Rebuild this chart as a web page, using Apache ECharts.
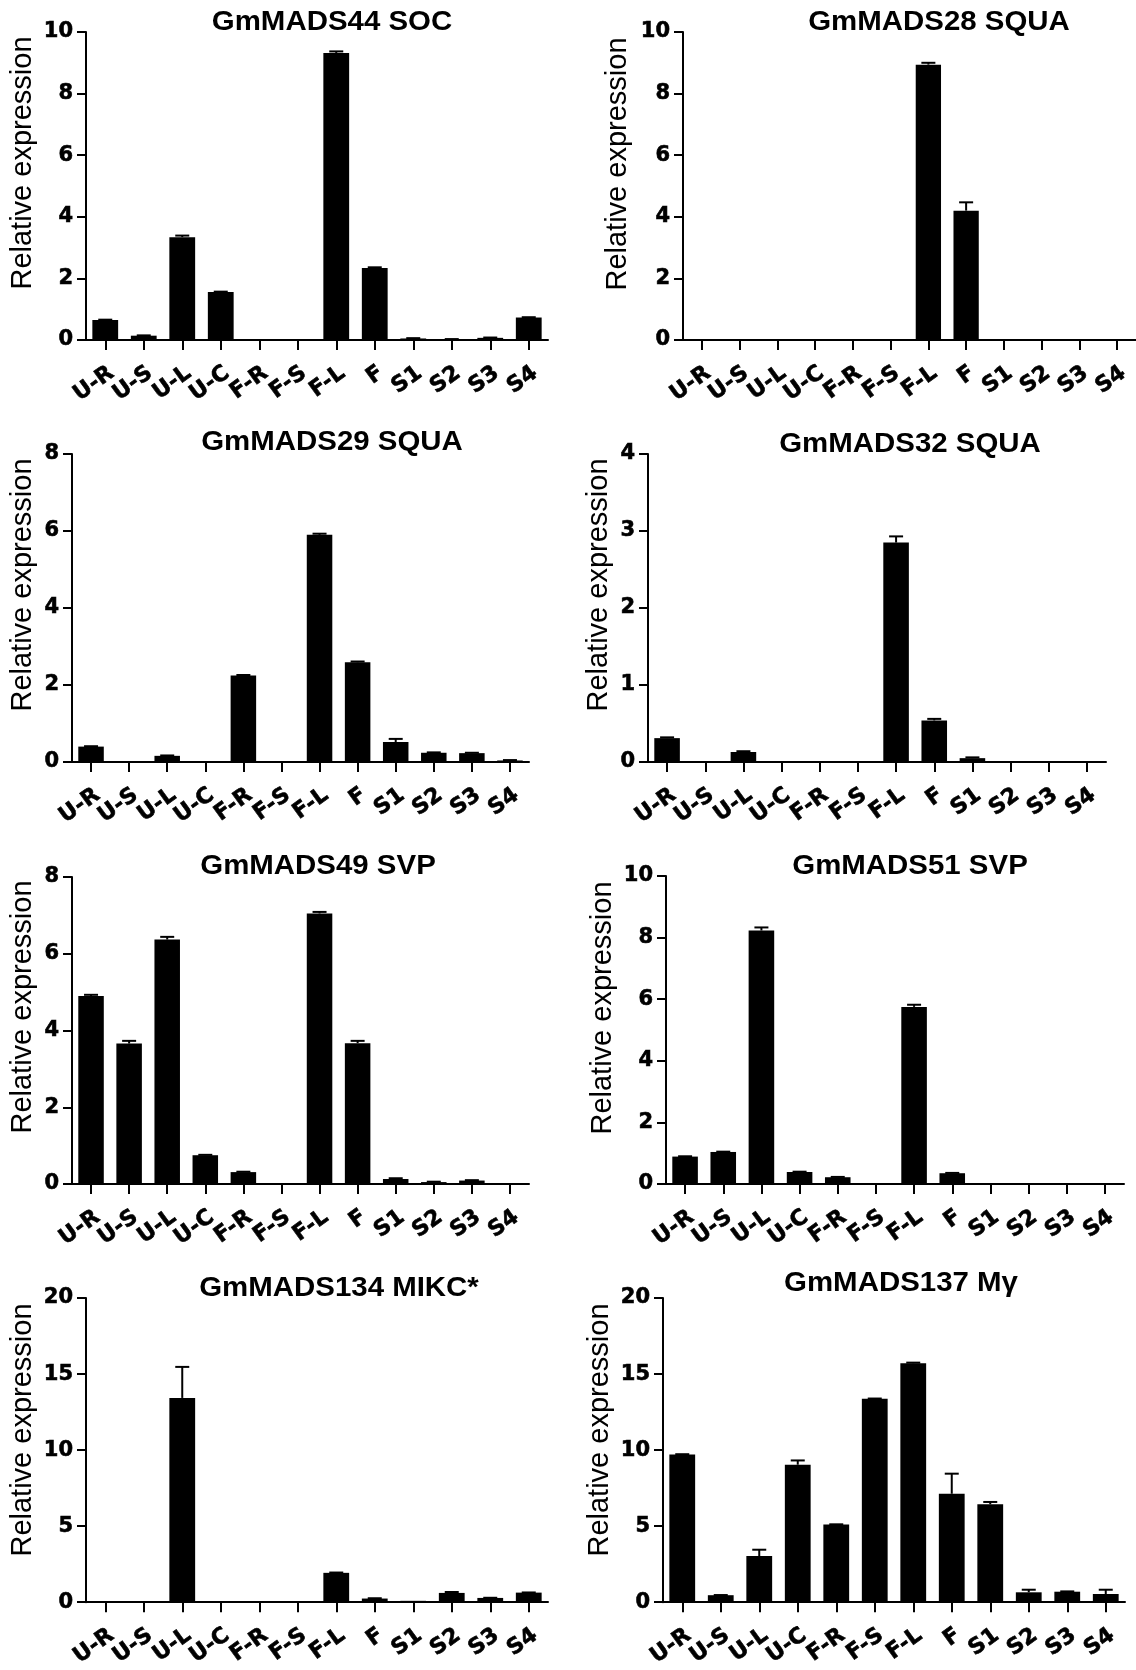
<!DOCTYPE html>
<html>
<head>
<meta charset="utf-8">
<title>GmMADS relative expression</title>
<script src="https://cdn.jsdelivr.net/npm/echarts@6/dist/echarts.min.js"></script>
<style>
	html, body { margin: 0; padding: 0; background: #fff; }
	#chart { width: 1136px; height: 1670px; }
</style>
</head>
<body>
<div id="chart"></div>
<script>
// tissues / stages on every x axis
var categories = ["U-R", "U-S", "U-L", "U-C", "F-R", "F-S", "F-L", "F", "S1", "S2", "S3", "S4"];

// mean relative expression and upper error (SD) for each gene
var gm44 = [0.65, 0.14, 3.34, 1.56, 0, 0, 9.32, 2.34, 0.05, 0.02, 0.07, 0.73];
var gm44Err = [0.01, 0.01, 0.05, 0.01, 0, 0, 0.05, 0.02, 0.01, 0.01, 0.01, 0.01];

var gm28 = [0, 0, 0, 0, 0, 0, 8.94, 4.2, 0, 0, 0, 0];
var gm28Err = [0, 0, 0, 0, 0, 0, 0.06, 0.27, 0, 0, 0, 0];

var gm29 = [0.4, 0.02, 0.16, 0, 2.25, 0, 5.9, 2.59, 0.52, 0.24, 0.23, 0.04];
var gm29Err = [0.01, 0, 0.01, 0, 0.01, 0, 0.03, 0.02, 0.08, 0.01, 0.01, 0.01];

var gm32 = [0.31, 0, 0.13, 0, 0, 0, 2.85, 0.54, 0.05, 0, 0, 0];
var gm32Err = [0.01, 0, 0.01, 0, 0, 0, 0.08, 0.02, 0.01, 0, 0, 0];

var gm49 = [4.9, 3.66, 6.37, 0.75, 0.31, 0, 7.05, 3.67, 0.13, 0.05, 0.09, 0];
var gm49Err = [0.03, 0.07, 0.07, 0.01, 0.01, 0, 0.04, 0.06, 0.02, 0.01, 0.01, 0];

var gm51 = [0.89, 1.04, 8.23, 0.39, 0.22, 0, 5.75, 0.35, 0, 0, 0, 0];
var gm51Err = [0.01, 0.01, 0.1, 0.01, 0.01, 0, 0.07, 0.01, 0, 0, 0, 0];

var gm134 = [0, 0.02, 13.43, 0, 0.06, 0.06, 1.93, 0.24, 0.09, 0.61, 0.28, 0.63];
var gm134Err = [0, 0, 2.04, 0, 0, 0, 0.02, 0.02, 0, 0.06, 0.01, 0.01];

var gm137 = [9.71, 0.46, 3.03, 9.04, 5.11, 13.37, 15.71, 7.13, 6.44, 0.65, 0.69, 0.54];
var gm137Err = [0.02, 0.01, 0.42, 0.28, 0.01, 0.02, 0.04, 1.32, 0.15, 0.17, 0.02, 0.28];

// y axis ranges
var yMax = [10, 10, 8, 4, 8, 10, 20, 20];
var yStep = [2, 2, 2, 1, 2, 2, 5, 5];

var titles = ["GmMADS44 SOC", "GmMADS28 SQUA", "GmMADS29 SQUA", "GmMADS32 SQUA",
	"GmMADS49 SVP", "GmMADS51 SVP", "GmMADS134 MIKC*", "GmMADS137 Mγ"];

var panels = [
	{ values: gm44, errors: gm44Err },
	{ values: gm28, errors: gm28Err },
	{ values: gm29, errors: gm29Err },
	{ values: gm32, errors: gm32Err },
	{ values: gm49, errors: gm49Err },
	{ values: gm51, errors: gm51Err },
	{ values: gm134, errors: gm134Err },
	{ values: gm137, errors: gm137Err }
];

// plot boxes in pixels, plus where the title and y name sit
var layout = [
	{ left: 86, top: 32, width: 462, height: 308, titleX: 332, titleY: 23, nameX: 23, nameY: 163 },
	{ left: 683, top: 32, width: 462, height: 308, titleX: 939, titleY: 23, nameX: 618, nameY: 164 },
	{ left: 72, top: 454, width: 457, height: 308, titleX: 332, titleY: 443, nameX: 23, nameY: 585 },
	{ left: 648, top: 454, width: 458, height: 308, titleX: 910, titleY: 445, nameX: 599, nameY: 585 },
	{ left: 72, top: 877, width: 457, height: 307, titleX: 318, titleY: 867, nameX: 23, nameY: 1007 },
	{ left: 666, top: 876, width: 458, height: 308, titleX: 910, titleY: 867, nameX: 603, nameY: 1008 },
	{ left: 86, top: 1298, width: 462, height: 308, titleX: 339, titleY: 1289, nameX: 23, nameY: 1430 },
	{ left: 663, top: 1298, width: 462, height: 308, titleX: 901, titleY: 1284, nameX: 600, nameY: 1430 }
];

var sansFont = '"Liberation Sans", Arial, sans-serif';
// the figure's lettering is wide, DejaVu fills the same space
var wideFont = '"DejaVu Sans", "Liberation Sans", sans-serif';

function renderErrorBar(params, api) {
	var idx = api.value(0);
	var mean = api.value(1);
	var err = api.value(2);
	var base = api.coord([idx, mean]);
	var top = api.coord([idx, mean + err]);
	var half = 7;
	return {
		type: "group",
		children: [
			{
				type: "line",
				shape: { x1: base[0], y1: base[1], x2: top[0], y2: top[1] },
				style: { stroke: "#000", lineWidth: 2 }
			},
			{
				type: "line",
				shape: { x1: top[0] - half, y1: top[1], x2: top[0] + half, y2: top[1] },
				style: { stroke: "#000", lineWidth: 2 }
			}
		]
	};
}

var grids = [], xAxes = [], yAxes = [], series = [], graphics = [];

panels.forEach(function (p, i) {
	var box = layout[i];
	grids.push({ left: box.left, top: box.top, width: box.width, height: box.height, containLabel: false });

	xAxes.push({
		gridIndex: i,
		type: "category",
		data: categories,
		boundaryGap: true,
		axisLine: { show: true, lineStyle: { color: "#000", width: 2 } },
		axisTick: { show: true, alignWithLabel: true, length: 10, lineStyle: { color: "#000", width: 2 } },
		axisLabel: {
			interval: 0,
			rotate: 36,
			margin: 22,
			verticalAlign: "top",
			color: "#000",
			fontSize: 22,
			fontWeight: "bold",
			fontFamily: wideFont,
			textBorderColor: "#000",
			textBorderWidth: 0.6
		},
		splitLine: { show: false }
	});

	yAxes.push({
		gridIndex: i,
		type: "value",
		min: 0,
		max: yMax[i],
		interval: yStep[i],
		axisLine: { show: true, lineStyle: { color: "#000", width: 2 } },
		axisTick: { show: true, length: 9, lineStyle: { color: "#000", width: 2 } },
		axisLabel: {
			margin: 13,
			color: "#000",
			fontSize: 21,
			fontWeight: "bold",
			fontFamily: wideFont,
			textBorderColor: "#000",
			textBorderWidth: 0.6
		},
		splitLine: { show: false }
	});

	series.push({
		type: "bar",
		xAxisIndex: i,
		yAxisIndex: i,
		barWidth: "67%",
		itemStyle: { color: "#000" },
		data: p.values,
		silent: true
	});

	series.push({
		type: "custom",
		xAxisIndex: i,
		yAxisIndex: i,
		renderItem: renderErrorBar,
		encode: { x: 0, y: 1 },
		z: 5,
		silent: true,
		data: p.values.map(function (v, k) {
			return [k, v, p.errors[k]];
		}).filter(function (d) {
			return d[1] > 0 && d[2] > 0;
		})
	});

	graphics.push({
		type: "text",
		x: box.titleX,
		y: box.titleY,
		scaleX: 1.09,
		style: {
			text: titles[i],
			font: "bold 27px " + sansFont,
			fill: "#000",
			align: "center",
			verticalAlign: "middle"
		}
	});

	graphics.push({
		type: "text",
		x: box.nameX,
		y: box.nameY,
		rotation: Math.PI / 2,
		style: {
			text: "Relative expression",
			font: "29px " + sansFont,
			fill: "#000",
			align: "center",
			verticalAlign: "middle"
		}
	});
});

var chart = echarts.init(document.getElementById("chart"), null, { renderer: "canvas" });
chart.setOption({
	backgroundColor: "#fff",
	animation: false,
	grid: grids,
	xAxis: xAxes,
	yAxis: yAxes,
	series: series,
	graphic: graphics
});
</script>
</body>
</html>
